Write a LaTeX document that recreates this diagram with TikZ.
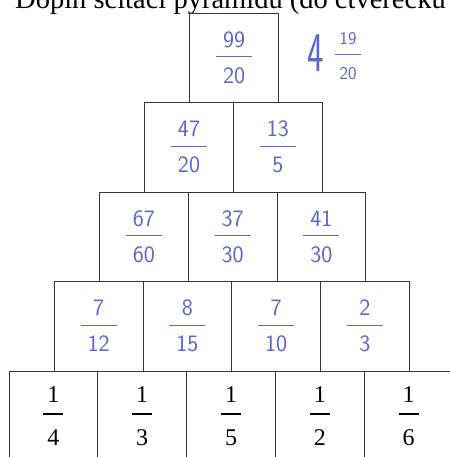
\documentclass[tikz,border=0pt]{standalone}
\usepackage{fontspec}
\setmainfont{Liberation Serif}

\definecolor{inkblue}{RGB}{92,102,204}
\definecolor{gridline}{RGB}{55,55,55}

\newcommand{\handfrac}[2]{#1\\\rule[8pt]{36pt}{1pt}\\#2}
\newcommand{\smallfrac}[2]{#1\\\rule[7pt]{26pt}{1pt}\\#2}
\newcommand{\printfrac}[2]{#1\\\rule[9pt]{20pt}{1.5pt}\\#2}

\begin{document}
\begin{tikzpicture}[
  x=1pt, y=1pt,
  cell/.style={draw=gridline, line width=0.8pt, minimum width=88.8pt, minimum height=89.5pt, inner sep=0pt, align=center},
  hand/.style={cell, text=inkblue, font=\fontsize{23.5}{18}\selectfont\sffamily},
  printed/.style={cell, font=\fontsize{24}{21.5}\selectfont}
]
  \useasboundingbox (0,0) rectangle (449,457);

  % ==========================================
  % 1. ZADANI (nadpis, oriznuty nahore)
  % ==========================================
  \node[anchor=base west, inner sep=0pt, font=\fontsize{28.5}{30}\selectfont] (title) at (15,448.5)
    {Doplň sčítací pyramidu (do čtverečků};

  % ==========================================
  % 2. SPODNI RADA (tistene zlomky)
  % ==========================================
  \node[printed] (p51) at (53.4,41.25)  {\printfrac{1}{4}};
  \node[printed] (p52) at (142.2,41.25) {\printfrac{1}{3}};
  \node[printed] (p53) at (231.0,41.25) {\printfrac{1}{5}};
  \node[printed] (p54) at (319.8,41.25) {\printfrac{1}{2}};
  \node[printed] (p55) at (408.6,41.25) {\printfrac{1}{6}};

  % ==========================================
  % 3. DOPLNENE RADY (rukou psane zlomky)
  % ==========================================
  \node[hand] (p41) at (98.6,130.75)  {\handfrac{7}{12}};
  \node[hand] (p42) at (187.4,130.75) {\handfrac{8}{15}};
  \node[hand] (p43) at (276.2,130.75) {\handfrac{7}{10}};
  \node[hand] (p44) at (365.0,130.75) {\handfrac{2}{3}};

  \node[hand] (p31) at (143.8,220.25) {\handfrac{67}{60}};
  \node[hand] (p32) at (232.6,220.25) {\handfrac{37}{30}};
  \node[hand] (p33) at (321.4,220.25) {\handfrac{41}{30}};

  \node[hand] (p21) at (189.0,309.75) {\handfrac{47}{20}};
  \node[hand] (p22) at (277.8,309.75) {\handfrac{13}{5}};

  \node[hand] (p11) at (234.2,399.25) {\handfrac{99}{20}};

  % smiseny tvar vedle vrcholu
  \node[text=inkblue, inner sep=0pt, font=\fontsize{56}{56}\selectfont\sffamily] (whole) at (316,404) {\scalebox{0.62}[1]{4}};
  \node[text=inkblue, inner sep=0pt, align=center, font=\fontsize{18}{17.5}\selectfont\sffamily] (rest) at (348,400.5)
    {\smallfrac{19}{20}};

\end{tikzpicture}
\end{document}
